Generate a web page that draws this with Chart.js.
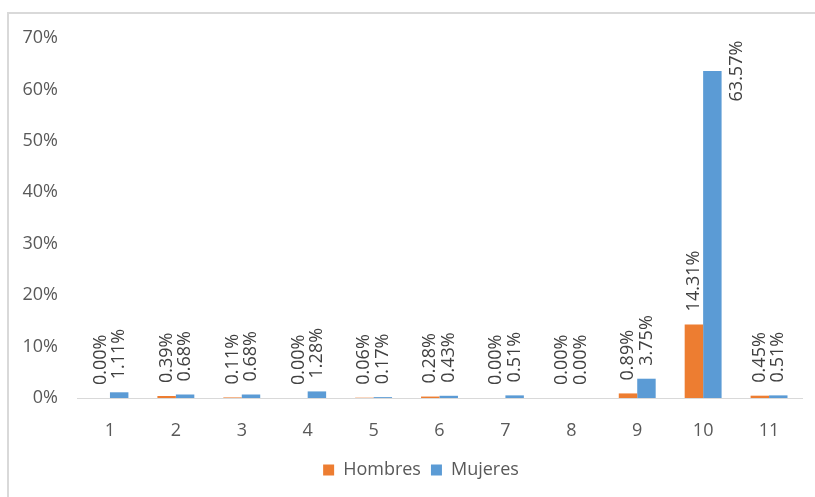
<!DOCTYPE html>
<html>
<head>
<meta charset="utf-8">
<script src="https://cdn.jsdelivr.net/npm/chart.js@4"></script>
<style>
  html, body { margin: 0; padding: 0; background: #fff; overflow: hidden; }
  #wrap { position: relative; width: 815px; height: 497px; }
  #frame { position: absolute; left: 7px; top: 12px; width: 900px; height: 600px;
           border-left: 2px solid #d9d9d9; border-top: 2px solid #d9d9d9; }
  canvas { position: absolute; left: 0; top: 0; }
</style>
</head>
<body>
<div id="wrap">
  <div id="frame"></div>
  <canvas id="chart" width="815" height="497"></canvas>
</div>
<script>
// values (percent)
const categories = ['1', '2', '3', '4', '5', '6', '7', '8', '9', '10', '11'];
const hombres = [0.00, 0.39, 0.11, 0.00, 0.06, 0.28, 0.00, 0.00, 0.89, 14.31, 0.45];
const mujeres = [1.11, 0.68, 0.68, 1.28, 0.17, 0.43, 0.51, 0.00, 3.75, 63.57, 0.51];
const yTicks = [0, 10, 20, 30, 40, 50, 60, 70];

const FONT = "'Open Sans', 'Noto Sans', sans-serif";

// rotated value labels above each bar (moved beside the bar if it would not fit)
const barLabels = {
  id: 'barLabels',
  afterDatasetsDraw(chart) {
    const ctx = chart.ctx;
    ctx.save();
    ctx.font = '18px ' + FONT;
    ctx.fillStyle = '#404040';
    ctx.textBaseline = 'middle';
    chart.data.datasets.forEach((ds, di) => {
      chart.getDatasetMeta(di).data.forEach((bar, i) => {
        const txt = ds.data[i].toFixed(2) + '%';
        const w = ctx.measureText(txt).width;
        let start = bar.y - 13;
        ctx.save();
        if (start - w < 0) {
          ctx.translate(bar.x + bar.width / 2 + 15, bar.y + w / 2);
        } else {
          ctx.translate(bar.x, start);
        }
        ctx.rotate(-Math.PI / 2);
        ctx.textAlign = 'left';
        ctx.fillText(txt, 0, 0);
        ctx.restore();
      });
    });
    ctx.restore();
  }
};

// the original chart box runs past the right edge of the picture, so its legend sits right of centre
const legendShift = {
  id: 'legendShift',
  afterLayout(chart) {
    chart.legend.left += 20;
    chart.legend.right += 20;
  }
};

new Chart(document.getElementById('chart'), {
  type: 'bar',
  data: {
    labels: categories,
    datasets: [
      { label: 'Hombres', data: hombres, backgroundColor: '#ED7D31' },
      { label: 'Mujeres', data: mujeres, backgroundColor: '#5B9BD5' }
    ]
  },
  options: {
    responsive: false,
    animation: false,
    categoryPercentage: 0.56,
    barPercentage: 1,
    layout: { padding: { top: 38, right: 13, bottom: 8, left: 0 } },
    plugins: {
      tooltip: { enabled: false },
      legend: {
        position: 'bottom',
        labels: {
          font: { family: FONT, size: 18 },
          color: '#595959',
          boxWidth: 11,
          boxHeight: 11,
          padding: 10
        }
      }
    },
    scales: {
      x: {
        grid: { display: false },
        border: { color: '#d9d9d9', width: 1 },
        ticks: { font: { family: FONT, size: 18 }, color: '#595959', padding: 14 },
        afterFit(s) { s.height = 53; }
      },
      y: {
        min: 0,
        max: 70,
        grid: { display: false, drawTicks: false },
        border: { display: false },
        afterBuildTicks(s) { s.ticks = yTicks.map(v => ({ value: v })); },
        ticks: {
          font: { family: FONT, size: 18 },
          color: '#595959',
          padding: 19,
          callback: v => v + '%'
        },
        afterFit(s) { s.width = 77; }
      }
    }
  },
  plugins: [barLabels, legendShift]
});
</script>
</body>
</html>
